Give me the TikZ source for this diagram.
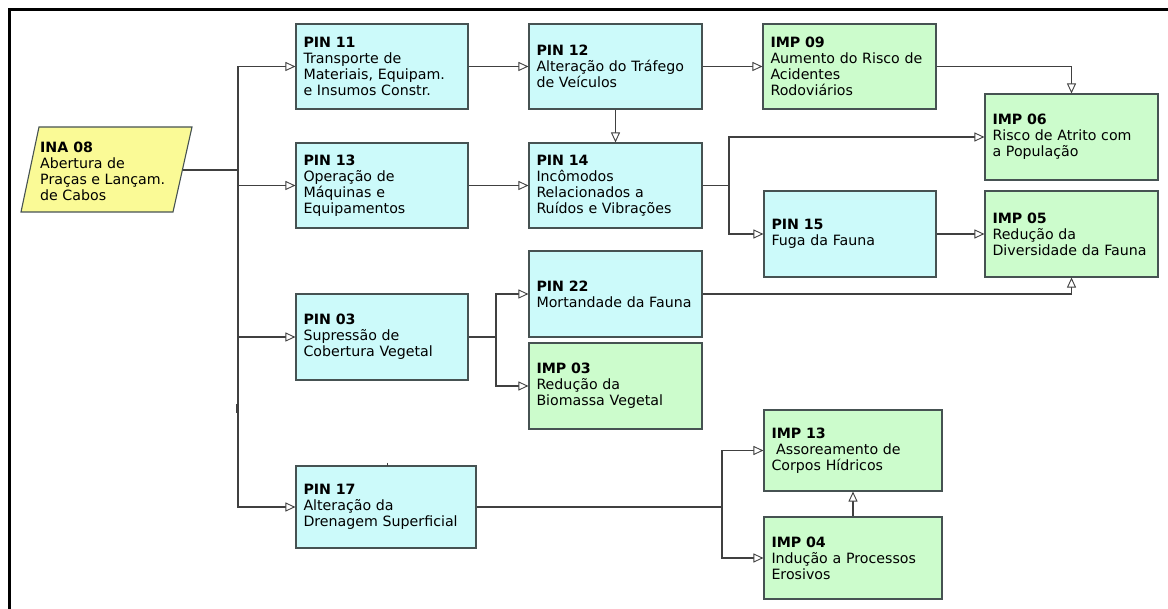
\documentclass[tikz,border=0pt]{standalone}
\usepackage{fontspec}
\setmainfont{DejaVu Sans}
\usetikzlibrary{arrows.meta}
\definecolor{pincol}{RGB}{204,250,250}
\definecolor{impcol}{RGB}{204,252,204}
\definecolor{inacol}{RGB}{250,250,150}
\definecolor{boxline}{RGB}{70,82,82}
\definecolor{lncol}{RGB}{64,64,64}
\tikzset{
  bx/.style={draw=boxline, line width=1.1pt, rectangle, align=left,
    inner xsep=7.5pt, inner ysep=0pt, font=\fontsize{14.2}{15.9}\selectfont},
  pin/.style={bx, fill=pincol},
  imp/.style={bx, fill=impcol},
  conn/.style={draw=lncol, line width=1.1pt},
  arr/.style={conn, -{Triangle[length=10pt, width=9pt, fill=white, line width=0.9pt]}},
}
\begin{document}
\begin{tikzpicture}[x=1pt, y=-1pt]
\useasboundingbox (0,0) rectangle (1168,609);
% frame
\draw[line width=3pt, black, line join=miter] (1172,10) -- (9.5,10) -- (9.5,614);

% INA 08 parallelogram
\filldraw[fill=inacol, draw=boxline, line width=1.1pt] (39,127) -- (192,127) -- (173,212) -- (21,212) -- cycle;
\node[anchor=west, align=left, inner sep=0pt, font=\fontsize{14.2}{15.9}\selectfont] (ina) at (40,171)
  {\textbf{INA 08}\\Abertura de\\Praças e Lançam.\\de Cabos};
\coordinate (inaR) at (182.5,170);
\coordinate (j1) at (238,170);

% boxes
\node[pin, text width=157pt, minimum height=85pt] (pin11) at (382,66.5)
  {\textbf{PIN 11}\\Transporte de\\Materiais, Equipam.\\e Insumos Constr.};
\node[pin, text width=158pt, minimum height=85pt] (pin12) at (615.5,66.5)
  {\textbf{PIN 12}\\Alteração do Tráfego\\de Veículos};
\node[imp, text width=158pt, minimum height=85pt] (imp09) at (849.5,66.5)
  {\textbf{IMP 09}\\Aumento do Risco de\\Acidentes\\Rodoviários};
\node[imp, text width=158pt, minimum height=86pt] (imp06) at (1071.5,137)
  {\textbf{IMP 06}\\Risco de Atrito com\\a População};
\node[pin, text width=157pt, minimum height=85pt] (pin13) at (382,185.5)
  {\textbf{PIN 13}\\Operação de\\Máquinas e\\Equipamentos};
\node[pin, text width=158pt, minimum height=85pt] (pin14) at (615.5,185.5)
  {\textbf{PIN 14}\\Incômodos\\Relacionados a\\Ruídos e Vibrações};
\node[pin, text width=157pt, minimum height=86pt] (pin15) at (850,234)
  {\textbf{PIN 15}\\Fuga da Fauna};
\node[imp, text width=158pt, minimum height=86pt] (imp05) at (1071.5,234)
  {\textbf{IMP 05}\\Redução da\\Diversidade da Fauna};
\node[pin, text width=157pt, minimum height=86pt] (pin03) at (382,337)
  {\textbf{PIN 03}\\Supressão de\\Cobertura Vegetal};
\node[pin, text width=158pt, minimum height=86pt] (pin22) at (615.5,294)
  {\textbf{PIN 22}\\Mortandade da Fauna};
\node[imp, text width=158pt, minimum height=86pt] (imp03) at (615.5,386)
  {\textbf{IMP 03}\\Redução da\\Biomassa Vegetal};
\node[pin, text width=165pt, minimum height=82pt] (pin17) at (386,507)
  {\textbf{PIN 17}\\Alteração da\\Drenagem Superficial};
\node[imp, text width=163pt, minimum height=81pt] (imp13) at (853,450.5)
  {\textbf{IMP 13}\\\ Assoreamento de\\Corpos Hídricos};
\node[imp, text width=163pt, minimum height=82pt] (imp04) at (853,558)
  {\textbf{IMP 04}\\Indução a Processos\\Erosivos};

% junctions
\coordinate (j2) at (729,185.5);
\coordinate (j3) at (496,337);
\coordinate (j4) at (722,507);

% connectors
\draw[conn] (inaR) -- (j1);
\draw[arr] (j1) |- (pin11);
\draw[arr] (j1) |- (pin13);
\draw[arr] (j1) |- (pin03);
\draw[arr] (j1) |- (pin17);
\draw[arr] (pin11) -- (pin12);
\draw[arr] (pin12) -- (imp09);
\draw[arr] (pin12) -- (pin14);
\draw[arr] (pin13) -- (pin14);
\draw[arr] (imp09.east) -| (imp06.north);
\draw[conn] (pin14.east) -- (j2);
\draw[arr] (j2) |- (imp06);
\draw[arr] (j2) |- (pin15);
\draw[arr] (pin15) -- (imp05);
\draw[arr] (pin22.east) -| (imp05.south);
\draw[conn] (pin03.east) -- (j3);
\draw[arr] (j3) |- (pin22);
\draw[arr] (j3) |- (imp03);
\draw[conn] (pin17.east) -- (j4);
\draw[arr] (j4) |- (imp13);
\draw[arr] (j4) |- (imp04);
\draw[arr] (imp04) -- (imp13);

% small marks
\draw[lncol, line width=1.6pt] (236.8,404) -- (236.8,413);
\draw[lncol, line width=0.8pt] (387,463) -- (387,466);
\end{tikzpicture}
\end{document}
